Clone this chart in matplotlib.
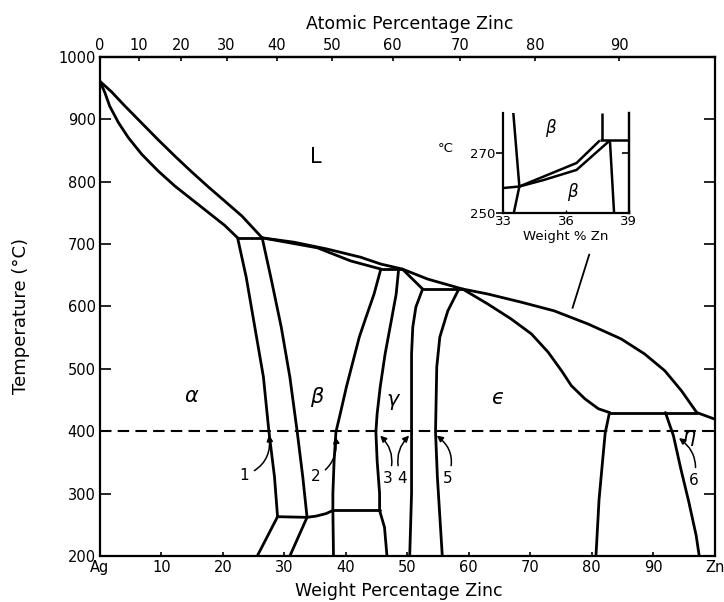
import matplotlib
matplotlib.use('Agg')
import matplotlib.pyplot as plt
import numpy as np

# ---------------- data (weight % Zn, temperature degC) ----------------
liquidus_w = [0, 1.9, 4.0, 6.7, 9.5, 12.2, 14.9, 17.6, 20.3, 23.1, 26.4,
              31.6, 37.0, 42.4, 45.7, 49.2, 53.3, 59.0, 63.1, 68.5, 73.9,
              79.4, 84.8, 88.6, 91.9, 94.6, 97.1, 100]
liquidus_T = [961, 944, 922, 895, 867, 841, 816, 792, 769, 745, 710,
              703, 692, 679, 668, 660, 644, 628, 620, 607, 593,
              572, 548, 524, 497, 465, 430, 419.5]

solidus_w = [0, 0.8, 1.6, 3.0, 4.6, 6.8, 9.5, 12.2, 14.9, 17.6, 20.3, 22.4]
solidus_T = [961, 943, 921, 895, 871, 844, 817, 793, 772, 751, 730, 710]

perit710_w = [22.4, 26.4]
perit710_T = [710, 710]

beta_solidus_w = [26.4, 35.4, 40.8, 45.7]
beta_solidus_T = [710, 694, 673, 660]

perit660_w = [45.7, 49.2]
perit660_T = [660, 660]

gamma_solidus_w = [49.2, 52.5]
gamma_solidus_T = [660, 628]

perit628_w = [52.5, 59.0]
perit628_T = [628, 628]

eps_solidus_w = [59.0, 63.1, 66.9, 70.2, 72.9, 75.1, 76.7, 78.9, 81.1, 82.9]
eps_solidus_T = [628, 604, 580, 556, 527, 497, 473, 452, 436, 430]

perit430_w = [82.9, 97.1]
perit430_T = [430, 430]

alpha_solvus_w = [22.4, 23.8, 25.2, 26.6, 27.5, 28.4, 28.9]
alpha_solvus_T = [710, 647, 567, 487, 399, 327, 263]
alpha_low_w = [28.9, 25.6]
alpha_low_T = [263, 200]

beta_left_w = [26.4, 27.8, 29.5, 30.9, 32.1, 33.0, 33.7]
beta_left_T = [710, 647, 567, 487, 399, 327, 262]
beta_left_low_w = [33.7, 30.9]
beta_left_low_T = [262, 200]

horiz263_w = [28.9, 33.7]
horiz263_T = [263, 262]

order_w = [33.7, 35.2, 36.8, 37.9]
order_T = [262, 264, 268, 273]

horiz273_w = [37.9, 45.5]
horiz273_T = [273, 273]

beta_right_w = [45.7, 44.6, 43.3, 42.2, 41.2, 40.1, 39.1, 38.4, 38.1, 37.9, 37.9, 38.0]
beta_right_T = [660, 620, 583, 551, 513, 471, 428, 399, 353, 300, 273, 200]

gamma_left_w = [48.6, 48.2, 47.4, 46.4, 45.6, 45.1, 44.9, 45.1, 45.5, 45.5, 46.3, 46.7]
gamma_left_T = [660, 620, 577, 524, 471, 428, 399, 353, 300, 273, 246, 200]

gamma_right_w = [52.5, 51.4, 50.9, 50.7, 50.7, 50.7, 50.4]
gamma_right_T = [628, 599, 567, 524, 399, 300, 200]

eps_left_w = [58.4, 56.6, 55.3, 54.8, 54.6, 54.9, 55.7]
eps_left_T = [628, 593, 551, 503, 399, 327, 200]

eps_right_w = [82.9, 82.2, 81.7, 81.2, 80.7]
eps_right_T = [430, 397, 344, 290, 200]

eta_left_w = [92.0, 93.3, 94.5, 95.8, 97.0, 97.5]
eta_left_T = [430, 393, 340, 287, 233, 200]

isotherm_T = 400

leader_w = [79.6, 76.9]
leader_T = [683, 598]

# phase labels
phase_labels = ['L', 'α', 'β', 'γ', 'ϵ', 'η']
phase_w = [35.2, 14.8, 35.3, 47.6, 64.7, 95.9]
phase_T = [840, 456, 455, 450, 454, 392]

# numbered arrows
num_labels = ['1', '2', '3', '4', '5', '6']
num_w = [23.5, 35.1, 46.8, 49.2, 56.5, 96.6]
num_T = [329, 327, 324, 324, 324, 321]
arrow_w = [27.5, 38.3, 45.6, 50.3, 54.8, 94.2]
arrow_T = [394, 391, 393, 393, 393, 389]
arrow_rad = [0.4, 0.35, 0.35, -0.35, 0.4, 0.35]

# ticks
wt_ticks = list(range(0, 101, 10))
wt_labels = ['Ag', '10', '20', '30', '40', '50', '60', '70', '80', '90', 'Zn']
temp_ticks = list(range(200, 1001, 100))
at_ticks = [0, 10, 20, 30, 40, 50, 60, 70, 80, 90]

# inset data
in_A_w = [33.47, 33.76, 33.49]
in_A_T = [283.3, 258.9, 250]
in_h1_w = [33.0, 33.76]
in_h1_T = [258.4, 258.9]
in_up_w = [33.76, 34.92, 36.5, 37.62]
in_up_T = [258.9, 262.2, 266.7, 274.2]
in_lo_w = [33.76, 34.9, 36.5, 38.1]
in_lo_T = [258.9, 261.0, 264.4, 274.2]
in_top_w = [37.62, 39.0]
in_top_T = [274.4, 274.4]
in_B_w = [37.7, 37.7]
in_B_T = [283.3, 274.4]
in_C_w = [38.1, 38.3]
in_C_T = [274.2, 250]
in_lab_w = [35.23, 36.28]
in_lab_T = [278.4, 257.1]

M_ZN, M_AG = 65.38, 107.87


def w2a(w):
    w = np.clip(np.asarray(w, dtype=float), 0, 100)
    nz = w / M_ZN
    na = (100 - w) / M_AG
    return 100 * nz / (nz + na)


def a2w(a):
    a = np.clip(np.asarray(a, dtype=float), 0, 100)
    mz = a * M_ZN
    ma = (100 - a) * M_AG
    return 100 * mz / (mz + ma)


fig = plt.figure(figsize=(7.24, 6.02), dpi=100)
ax = fig.add_axes([0.138, 0.0764, 0.849, 0.829])
ax.set_xlim(0, 100)
ax.set_ylim(200, 1000)

LW = 2.0
kw = dict(color='black', lw=LW, solid_joinstyle='round', solid_capstyle='round')
curves = [
    (liquidus_w, liquidus_T), (solidus_w, solidus_T), (perit710_w, perit710_T),
    (beta_solidus_w, beta_solidus_T), (perit660_w, perit660_T),
    (gamma_solidus_w, gamma_solidus_T), (perit628_w, perit628_T),
    (eps_solidus_w, eps_solidus_T), (perit430_w, perit430_T),
    (alpha_solvus_w, alpha_solvus_T), (alpha_low_w, alpha_low_T),
    (beta_left_w, beta_left_T), (beta_left_low_w, beta_left_low_T),
    (horiz263_w, horiz263_T), (order_w, order_T), (horiz273_w, horiz273_T),
    (beta_right_w, beta_right_T), (gamma_left_w, gamma_left_T),
    (gamma_right_w, gamma_right_T), (eps_left_w, eps_left_T),
    (eps_right_w, eps_right_T), (eta_left_w, eta_left_T),
]
for w, T in curves:
    ax.plot(w, T, **kw)

ax.plot(leader_w, leader_T, color='black', lw=1.3)
ax.axhline(isotherm_T, color='black', lw=1.5, ls=(0, (5.5, 3)))

for lab, w, T in zip(phase_labels, phase_w, phase_T):
    style = 'normal' if lab == 'L' else 'italic'
    ax.text(w, T, lab, fontsize=15, style=style, ha='center', va='center')

for lab, w, T, tw, tT, rad in zip(num_labels, num_w, num_T, arrow_w, arrow_T, arrow_rad):
    ax.annotate(lab, xy=(tw, tT), xytext=(w, T), fontsize=11, ha='center', va='center',
                arrowprops=dict(arrowstyle='-|>', color='black', lw=1.1,
                                mutation_scale=9, shrinkA=2, shrinkB=0,
                                connectionstyle=f'arc3,rad={rad}'))

for s in ax.spines.values():
    s.set_linewidth(1.6)

ax.set_xticks(wt_ticks)
ax.set_xticklabels(wt_labels)
ax.set_yticks(temp_ticks)
ax.tick_params(axis='x', direction='in', length=3, width=1.2, pad=3, labelsize=10.5)
ax.tick_params(axis='y', direction='in', length=8, width=1.2, pad=3, labelsize=10.5,
               right=True, labelright=False)

sec = ax.secondary_xaxis('top', functions=(w2a, a2w))
sec.set_xticks(at_ticks)
sec.set_xticklabels([str(a) for a in at_ticks])
sec.tick_params(direction='in', length=3, width=1.2, pad=3, labelsize=10.5)
sec.spines['top'].set_linewidth(1.6)

fig.text(410 / 724, 1 - 24 / 602, 'Atomic Percentage Zinc', ha='center', va='center', fontsize=12.5)
fig.text(399 / 724, 1 - 591 / 602, 'Weight Percentage Zinc', ha='center', va='center', fontsize=12.5)
fig.text(21 / 724, 1 - 316 / 602, 'Temperature (°C)', ha='center', va='center', fontsize=13, rotation=90)

# ---------------- inset ----------------
ax_in = fig.add_axes([503.5 / 724, 1 - 213.3 / 602, 125.2 / 724, 100.3 / 602])
ax_in.set_xlim(33, 39)
ax_in.set_ylim(250, 283.3)
ax_in.patch.set_alpha(0)
ax_in.spines['top'].set_visible(False)
for s in ['left', 'right', 'bottom']:
    ax_in.spines[s].set_linewidth(1.6)
ikw = dict(color='black', lw=1.8, solid_joinstyle='round', solid_capstyle='butt')
for w, T in [(in_A_w, in_A_T), (in_h1_w, in_h1_T), (in_up_w, in_up_T), (in_lo_w, in_lo_T),
             (in_top_w, in_top_T), (in_B_w, in_B_T), (in_C_w, in_C_T)]:
    ax_in.plot(w, T, **ikw)
for w, T in zip(in_lab_w, in_lab_T):
    ax_in.text(w, T, 'β', fontsize=12, style='italic', ha='center', va='center')
ax_in.set_xticks([33, 36, 39])
ax_in.set_xticklabels(['33', '36', '39'])
ax_in.set_yticks([250, 270])
ax_in.set_yticklabels(['250', '270'])
ax_in.tick_params(axis='x', direction='in', length=2, width=1, pad=1, labelsize=9.5)
ax_in.tick_params(axis='y', direction='out', length=5, width=1.2, pad=1, labelsize=9.5)
sy = ax_in.secondary_yaxis('right')
sy.set_yticks([270])
sy.tick_params(direction='in', length=5, width=1.2, labelright=False)
sy.spines['right'].set_linewidth(1.6)
ax_in.set_xlabel('Weight % Zn', fontsize=9.5, labelpad=2)
fig.text(446 / 724, 1 - 148 / 602, '°C', ha='center', va='center', fontsize=9.5)

fig.savefig('out.png', dpi=100)
